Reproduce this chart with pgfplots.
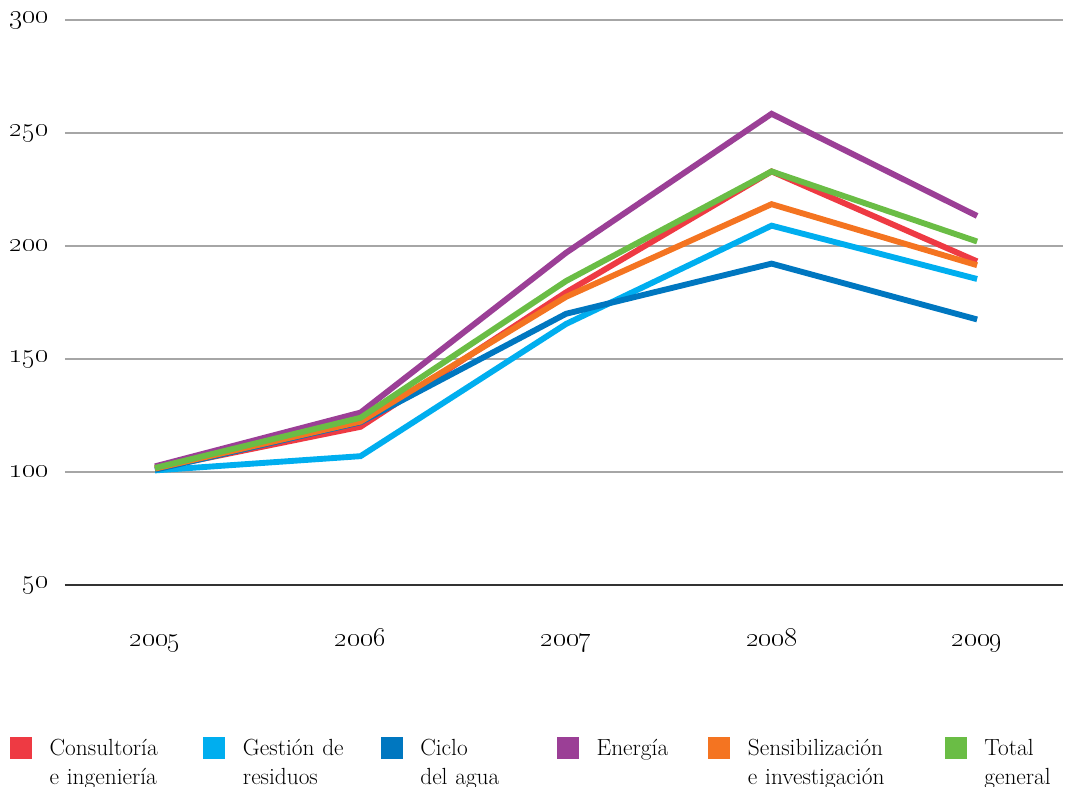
\documentclass[border=0pt]{standalone}
\usepackage{pgfplots}
\pgfplotsset{compat=1.18}

\definecolor{cRed}{HTML}{EE3A43}
\definecolor{cCyan}{HTML}{00AEEF}
\definecolor{cBlue}{HTML}{0077C0}
\definecolor{cPurple}{HTML}{9B3F96}
\definecolor{cOrange}{HTML}{F47421}
\definecolor{cGreen}{HTML}{6ABD45}

\begin{document}
\begin{tikzpicture}
\begin{axis}[
  scale only axis, width=748.5pt, height=423.75pt,
  xmin=2004.562, xmax=2009.418, ymin=50, ymax=300,
  axis x line=bottom, axis y line=left,
  x axis line style={-, draw=black!80, line width=2.2pt},
  y axis line style={draw=none},
  major tick length=0pt,
  ytick={50,100,150,200,250,300},
  yticklabels={\oldstylenums{50},\oldstylenums{100},\oldstylenums{150},\oldstylenums{200},\oldstylenums{250},\oldstylenums{300}},
  xtick={2005,2006,2007,2008,2009},
  xticklabels={\oldstylenums{2005},\oldstylenums{2006},\oldstylenums{2007},\oldstylenums{2008},\oldstylenums{2009}},
  ymajorgrids, grid style={draw=black!35, line width=1pt},
  tick label style={font=\fontsize{19.5}{22}\selectfont},
  yticklabel style={anchor=east, inner sep=0pt, xshift=-12.5pt},
  xticklabel style={anchor=base, inner sep=0pt, yshift=-46pt},
  every axis plot/.append style={line width=4.4pt, no markers},
  legend columns=6,
  legend image code/.code={%
    \path[use as bounding box, draw=none, fill=none] (0pt,0pt) rectangle (27.75pt,0.5pt);
    \fill[#1, draw=none] (0pt,-2.25pt) rectangle (16.5pt,14.25pt);},
  legend style={draw=none, fill=none, inner sep=0pt, outer sep=0pt,
    at={(-0.05511,-0.2690)}, anchor=north west,
    column sep=0pt, row sep=4.2pt,
    cells={anchor=base west, inner sep=0pt, align=left,
      font=\fontsize{17.5}{21}\selectfont, text height=12pt, text depth=3.5pt}},
]
\addplot[cRed] coordinates {(2005,101.5) (2006,120) (2007,179.5) (2008,233) (2009,193.2)};
\addlegendentry[text width=113.25pt]{Consultoría}
\addplot[cCyan] coordinates {(2005,100.7) (2006,107) (2007,165.5) (2008,209) (2009,185.4)};
\addlegendentry[text width=101.25pt]{Gestión de}
\addplot[cBlue] coordinates {(2005,101) (2006,122) (2007,170) (2008,192.2) (2009,167.5)};
\addlegendentry[text width=100.5pt]{Ciclo}
\addplot[cPurple] coordinates {(2005,102.5) (2006,126.3) (2007,197) (2008,258.5) (2009,213.3)};
\addlegendentry[text width=81.75pt]{Energía}
\addplot[cOrange] coordinates {(2005,101.5) (2006,122.3) (2007,177.5) (2008,218.5) (2009,191.5)};
\addlegendentry[text width=145.5pt]{Sensibilización}
\addplot[cGreen] coordinates {(2005,101.8) (2006,124) (2007,184.5) (2008,233) (2009,202)};
\addlegendentry[text width=56pt]{Total}
\addlegendimage{empty legend}\addlegendentry[text width=113.25pt]{e ingeniería}
\addlegendimage{empty legend}\addlegendentry[text width=101.25pt]{residuos}
\addlegendimage{empty legend}\addlegendentry[text width=100.5pt]{del agua}
\addlegendimage{empty legend}\addlegendentry[text width=81.75pt]{}
\addlegendimage{empty legend}\addlegendentry[text width=145.5pt]{e investigación}
\addlegendimage{empty legend}\addlegendentry[text width=56pt]{general}
\end{axis}
\pgfresetboundingbox
\path[use as bounding box] (current axis.south west) ++(-48.75pt,-151.5pt) rectangle ++(800.25pt,590.25pt);
\end{tikzpicture}
\end{document}
